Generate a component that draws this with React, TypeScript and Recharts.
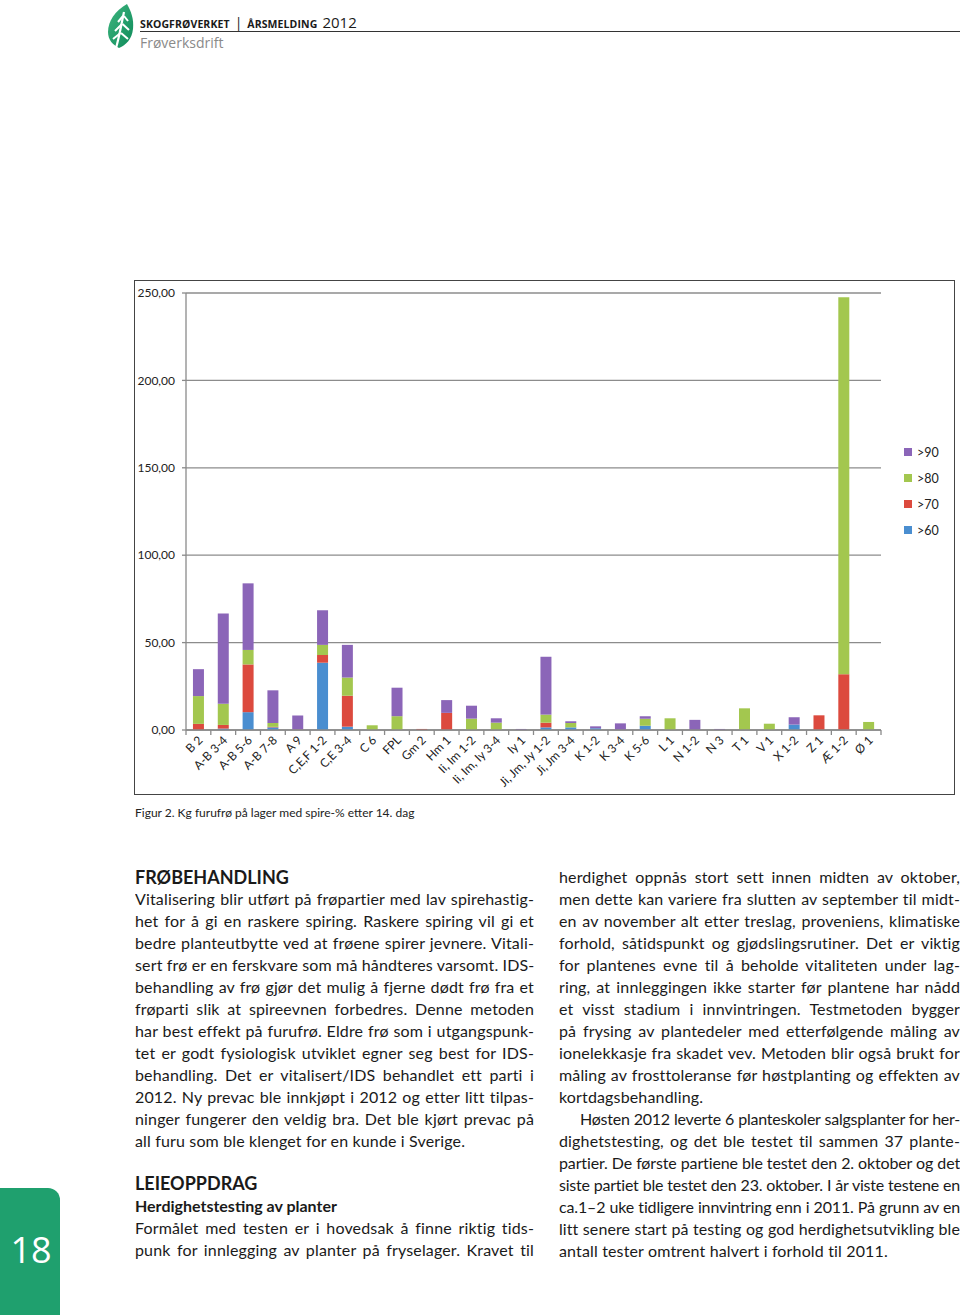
import React, { useLayoutEffect, useRef, useState } from 'react';
import { BarChart, Bar, XAxis, YAxis, CartesianGrid, Legend } from 'recharts';

const categories = ['B 2', 'A-B 3-4', 'A-B 5-6', 'A-B 7-8', 'A 9', 'C,E,F 1-2', 'C,E 3-4', 'C 6', 'FPL', 'Gm 2', 'Hm 1', 'Ii, Im 1-2', 'Ii, Im, Iy 3-4', 'Iy 1', 'Ji, Jm, Jy 1-2', 'Ji, Jm 3-4', 'K 1-2', 'K 3-4', 'K 5-6', 'L 1', 'N 1-2', 'N 3', 'T 1', 'V 1', 'X 1-2', 'Z 1', 'Æ 1-2', 'Ø 1'];
const over60 = [0, 0.8, 10.2, 1.5, 0, 38.5, 1.9, 0, 0, 0, 0, 0, 0, 0, 1.5, 1.5, 1.0, 0, 2.5, 0, 0, 0, 0, 0, 3.1, 0, 0, 0];
const over70 = [3.5, 2.1, 27.3, 0.3, 0.2, 4.4, 17.7, 0, 0, 0.6, 9.8, 0, 0, 0, 2.7, 0, 0, 0, 0, 0, 0, 0, 0, 0, 0, 8.4, 31.9, 0];
const over80 = [15.9, 12.1, 8.3, 2.2, 0, 5.8, 10.4, 2.7, 7.9, 0, 0, 6.5, 4.2, 0, 4.6, 2.5, 0, 0, 4.0, 6.7, 0, 0, 12.4, 3.6, 0, 0, 215.6, 4.6];
const over90 = [15.4, 51.6, 38.1, 18.7, 8.1, 19.8, 18.7, 0, 16.3, 0, 7.3, 7.4, 2.5, 0.6, 33.1, 1.0, 1.1, 3.8, 1.4, 0, 5.8, 0.6, 0, 0, 4.2, 0, 0, 0];
const yTicks = [0, 50, 100, 150, 200, 250];
const seriesNames = ['>60', '>70', '>80', '>90'];
const seriesColors = ['#4a8ed0', '#dc4a3e', '#a3c74f', '#8b65b8'];

const data = categories.map((c, i) => ({
  name: c,
  s60: over60[i],
  s70: over70[i],
  s80: over80[i],
  s90: over90[i],
}));
const seriesKeys = ['s60', 's70', 's80', 's90'];

const leftLines = [
  'Vitalisering blir utført på frøpartier med lav spirehastig-',
  'het for å gi en raskere spiring. Raskere spiring vil gi et',
  'bedre planteutbytte ved at frøene spirer jevnere. Vitali-',
  'sert frø er en ferskvare som må håndteres varsomt. IDS-',
  'behandling av frø gjør det mulig å fjerne dødt frø fra et',
  'frøparti slik at spireevnen forbedres. Denne metoden',
  'har best effekt på furufrø. Eldre frø som i utgangspunk-',
  'tet er godt fysiologisk utviklet egner seg best for IDS-',
  'behandling. Det er vitalisert/IDS behandlet ett parti i',
  '2012. Ny prevac ble innkjøpt i 2012 og etter litt tilpas-',
  'ninger fungerer den veldig bra. Det ble kjørt prevac på',
  'all furu som ble klenget for en kunde i Sverige.',
];
const leftLines2 = [
  'Formålet med testen er i hovedsak å finne riktig tids-',
  'punk for innlegging av planter på fryselager. Kravet til',
];
const rightLines = [
  'herdighet oppnås stort sett innen midten av oktober,',
  'men dette kan variere fra slutten av september til midt-',
  'en av november alt etter treslag, proveniens, klimatiske',
  'forhold, såtidspunkt og gjødslingsrutiner. Det er viktig',
  'for plantenes evne til å beholde vitaliteten under lag-',
  'ring, at innleggingen ikke starter før plantene har nådd',
  'et visst stadium i innvintringen. Testmetoden bygger',
  'på frysing av plantedeler med etterfølgende måling av',
  'ionelekkasje fra skadet vev. Metoden blir også brukt for',
  'måling av frosttoleranse før høstplanting og effekten av',
  'kortdagsbehandling.',
  'Høsten 2012 leverte 6 planteskoler salgsplanter for her-',
  'dighetstesting, og det ble testet til sammen 37 plante-',
  'partier. De første partiene ble testet den 2. oktober og det',
  'siste partiet ble testet den 23. oktober. I år viste testene en',
  'ca.1–2 uke tidligere innvintring enn i 2011. På grunn av en',
  'litt senere start på testing og god herdighetsutvikling ble',
  'antall tester omtrent halvert i forhold til 2011.',
];
const rightLast = [10, 17];
const rightIndent = [11];

const bodyFont = 'Lato, "Open Sans", sans-serif';
const chartFont = 'Lato, "Open Sans", sans-serif';

const TextLine = ({ text, last, indent }: { text: string; last?: boolean; indent?: boolean }) => {
  const ref = useRef<HTMLDivElement>(null);
  const [ls, setLs] = useState(0.15);
  useLayoutEffect(() => {
    const el = ref.current;
    if (!el) return;
    const over = el.scrollWidth - el.clientWidth;
    if (over > 0) setLs((l) => l - (over + 2) / text.length);
  }, [text, ls]);
  return (
    <div
      ref={ref}
      style={{
        height: 22,
        lineHeight: '22px',
        whiteSpace: 'nowrap',
        overflow: 'hidden',
        letterSpacing: ls,
        textAlign: last ? 'left' : 'justify',
        textAlignLast: last ? 'left' : 'justify',
        paddingLeft: indent ? 21 : 0,
      } as React.CSSProperties}
    >
      {text}
    </div>
  );
};

const XTick = (props: any) => {
  const { x, y, payload, index } = props;
  const off = payload && typeof payload.offset === 'number' ? payload.offset : 12.4;
  const ax = x + 5;
  const ay = y + 11;
  return (
    <g>
      <line x1={x - off} x2={x - off} y1={y} y2={y + 5} stroke="#8a8a8a" strokeWidth={1.3} />
      {index === categories.length - 1 && (
        <line x1={x + off} x2={x + off} y1={y} y2={y + 5} stroke="#8a8a8a" strokeWidth={1.3} />
      )}
      <text
        x={ax}
        y={ay}
        transform={`rotate(-45 ${ax} ${ay})`}
        textAnchor="end"
        fontSize={12}
        fontFamily={chartFont}
        fill="#222"
      >
        {payload.value}
      </text>
    </g>
  );
};

const LegendContent = (props: any) => {
  const items = [...(props.payload || [])].reverse();
  return (
    <div style={{ fontFamily: chartFont, fontSize: 12.5, color: '#222' }}>
      {items.map((it: any) => (
        <div key={it.value} style={{ display: 'flex', alignItems: 'center', height: 26 }}>
          <span style={{ width: 8, height: 8, background: it.color, display: 'inline-block', marginRight: 5 }} />
          <span>{it.value}</span>
        </div>
      ))}
    </div>
  );
};

const Logo = () => (
  <svg width={32} height={48} viewBox="0 0 32 48" style={{ position: 'absolute', left: 104, top: 2 }}>
    <defs>
      <linearGradient id="leafg" x1="0" y1="0" x2="1" y2="1">
        <stop offset="0" stopColor="#3fb67f" />
        <stop offset="1" stopColor="#0e8a5a" />
      </linearGradient>
    </defs>
    <path d="M23 2 C11 9 4 19 4 30 C4 38 9 43 15 46 C22 43 28 37 29 27 C30 17 27 9 23 2 Z" fill="url(#leafg)" />
    <path d="M12 46 C15 36 17 24 20 10" stroke="#fff" strokeWidth={2.2} fill="none" />
    <path d="M19 14 L14 20 M20 14 L24 19" stroke="#fff" strokeWidth={2} fill="none" />
    <path d="M18 22 L11 29 M18.5 22 L25 28" stroke="#fff" strokeWidth={2} fill="none" />
    <path d="M16.5 31 L9 37 M17 31 L24 37" stroke="#fff" strokeWidth={2} fill="none" />
  </svg>
);

export default function App() {
  return (
    <div style={{ position: 'absolute', left: 0, top: 0, width: 960, height: 1315, background: '#fff', overflow: 'hidden', fontFamily: bodyFont, color: '#1a1a1a' }}>
      <Logo />
      <div style={{ position: 'absolute', left: 140, top: 11, fontFamily: '"Open Sans", Lato, sans-serif', whiteSpace: 'nowrap', color: '#1a1a1a' }}>
        <span style={{ fontSize: 10.5, fontWeight: 700, letterSpacing: 0.1 }}>SKOGFRØVERKET</span>
        <span style={{ fontSize: 14, margin: '0 5px' }}>|</span>
        <span style={{ fontSize: 10.5, fontWeight: 700, letterSpacing: 0.1 }}>ÅRSMELDING</span>
        <span style={{ fontSize: 15, marginLeft: 5 }}>2012</span>
      </div>
      <div style={{ position: 'absolute', left: 140, top: 31, width: 820, height: 1, background: '#333' }} />
      <div style={{ position: 'absolute', left: 140, top: 33, fontSize: 14, color: '#8a8a8a', fontFamily: '"Open Sans", Lato, sans-serif' }}>Frøverksdrift</div>

      <div style={{ position: 'absolute', left: 134, top: 280, width: 821, height: 515, border: '1.5px solid #444', boxSizing: 'border-box' }} />
      <div style={{ position: 'absolute', left: 134, top: 280 }}>
        <BarChart
          width={821}
          height={515}
          data={data}
          margin={{ top: 13, right: 74, left: 0, bottom: 0 }}
          barCategoryGap="28%"
        >
          <CartesianGrid vertical={false} stroke="#8c8c8c" strokeWidth={1.3} />
          <XAxis
            dataKey="name"
            height={65}
            interval={0}
            tickLine={false}
            tickSize={0}
            tickMargin={0}
            tick={<XTick />}
            stroke="#8a8a8a"
            strokeWidth={1.3}
          />
          <YAxis
            width={52}
            domain={[0, 250]}
            ticks={yTicks}
            tickSize={4}
            tickMargin={7}
            stroke="#8a8a8a"
            strokeWidth={1.3}
            tick={{ fontSize: 12, fontFamily: chartFont, fill: '#222' }}
            tickFormatter={(v: number) => v.toFixed(2).replace('.', ',')}
            interval={0}
          />
          <Legend
            layout="vertical"
            align="center"
            verticalAlign="middle"
            content={<LegendContent />}
            wrapperStyle={{ position: 'absolute', left: 770, top: 159, width: 60 }}
          />
          {seriesKeys.map((k, i) => (
            <Bar key={k} dataKey={k} name={seriesNames[i]} stackId="a" fill={seriesColors[i]} isAnimationActive={false} />
          ))}
        </BarChart>
      </div>
      <div style={{ position: 'absolute', left: 135, top: 805, fontSize: 12, fontFamily: chartFont, color: '#222', whiteSpace: 'nowrap' }}>
        Figur 2. Kg furufrø på lager med spire-% etter 14. dag
      </div>

      <div style={{ position: 'absolute', left: 135, top: 866, width: 399, fontSize: 16 }}>
        <div style={{ height: 22, lineHeight: '22px', fontWeight: 700, fontSize: 18 }}>FRØBEHANDLING</div>
        {leftLines.map((t, i) => (
          <TextLine key={i} text={t} last={i === leftLines.length - 1} />
        ))}
      </div>
      <div style={{ position: 'absolute', left: 135, top: 1172, width: 399, fontSize: 16 }}>
        <div style={{ height: 23, lineHeight: '23px', fontWeight: 700, fontSize: 18 }}>LEIEOPPDRAG</div>
        <div style={{ height: 22, lineHeight: '22px', fontWeight: 700, fontSize: 16 }}>Herdighetstesting av planter</div>
        {leftLines2.map((t, i) => (
          <TextLine key={i} text={t} />
        ))}
      </div>
      <div style={{ position: 'absolute', left: 559, top: 866, width: 401, fontSize: 16 }}>
        {rightLines.map((t, i) => (
          <TextLine key={i} text={t} last={rightLast.includes(i)} indent={rightIndent.includes(i)} />
        ))}
      </div>

      <div style={{ position: 'absolute', left: 0, top: 1188, width: 60, height: 127, background: '#1fa06e', borderTopRightRadius: 12 }} />
      <div style={{ position: 'absolute', left: 0, top: 1228, width: 62, textAlign: 'center', color: '#fff', fontSize: 36, fontFamily: '"Open Sans", Lato, sans-serif', lineHeight: '44px' }}>18</div>
    </div>
  );
}
